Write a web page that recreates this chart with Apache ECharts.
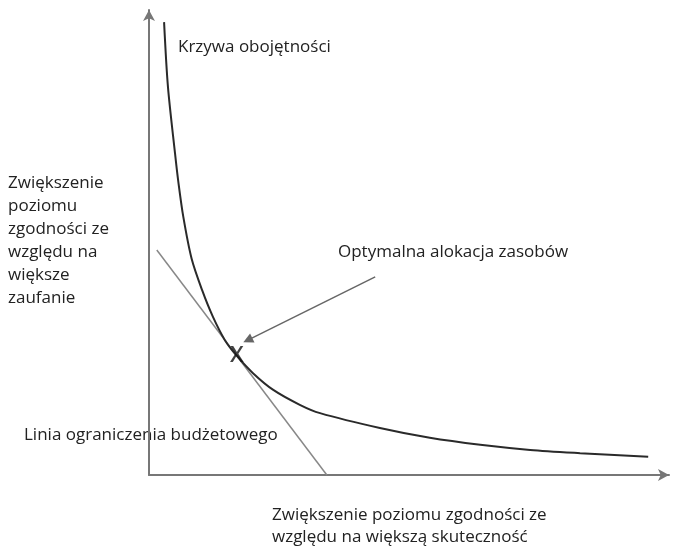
<!DOCTYPE html>
<html>
<head>
<meta charset="utf-8">
<script src="https://cdn.jsdelivr.net/npm/echarts@6.0.0/dist/echarts.min.js"></script>
<style>
html,body{margin:0;padding:0;background:#fff;}
#main{width:675px;height:546px;}
</style>
</head>
<body>
<div id="main"></div>
<script>
// krzywa obojętności (skala 0-100)
var curveX = [2.9, 3.65, 5.0, 5.6, 6.6, 8.2, 10.2, 12.3, 14.6, 16.9, 20.0, 23.9, 29.0, 32.9, 44.4, 54.0, 63.7, 73.3, 82.9, 96.0];
var curveY = [97.4, 83.4, 69.2, 63.4, 55.5, 46.5, 39.8, 34.0, 29.0, 25.6, 21.9, 18.3, 15.1, 13.3, 10.1, 8.0, 6.5, 5.4, 4.7, 3.9];
// linia ograniczenia budżetowego
var budgetX = [1.5, 34.2];
var budgetY = [48.4, 0];
// punkt optymalny i strzałka
var optimum = [16.9, 25.6];
var arrowFrom = [43.5, 42.6];
var arrowTo = [19.0, 29.0];

var font = '"Open Sans", "Noto Sans", sans-serif';
var txt = '#222';

function pairs(xs, ys){
    var out = [];
    for (var i = 0; i < xs.length; i++) out.push([xs[i], ys[i]]);
    return out;
}

var axisCommon = {
    type: 'value',
    min: 0,
    max: 100,
    axisLine: {
        show: true,
        symbol: ['none', 'arrow'],
        symbolSize: [9, 11],
        lineStyle: { color: '#777', width: 2 }
    },
    axisTick: { show: false },
    axisLabel: { show: false },
    splitLine: { show: false }
};

var myChart = echarts.init(document.getElementById('main'));
var option = {
    animation: false,
    backgroundColor: '#fff',
    grid: { left: 149, right: 6, top: 10, bottom: 71 },
    xAxis: axisCommon,
    yAxis: axisCommon,
    series: [
        {
            type: 'line',
            data: pairs(budgetX, budgetY),
            showSymbol: false,
            lineStyle: { color: '#888', width: 1.5 }
        },
        {
            type: 'line',
            data: pairs(curveX, curveY),
            smooth: 0.3,
            showSymbol: false,
            lineStyle: { color: '#2a2a2a', width: 2 }
        },
        {
            type: 'lines',
            coordinateSystem: 'cartesian2d',
            symbol: ['none', 'triangle'],
            symbolSize: 10,
            lineStyle: { color: '#666', width: 1.5, opacity: 1 },
            data: [{ coords: [arrowFrom, arrowTo] }]
        },
        {
            type: 'scatter',
            data: [optimum],
            symbolSize: 2,
            itemStyle: { color: 'rgba(0,0,0,0)' },
            label: {
                show: true,
                position: 'inside',
                formatter: 'X',
                fontFamily: font,
                fontSize: 22,
                fontWeight: 600,
                color: '#111'
            },
            z: 10
        }
    ],
    graphic: [
        { type: 'text', left: 178, top: 39, style: { text: 'Krzywa obojętności', font: '17px ' + font, fill: txt } },
        { type: 'text', left: 8, top: 172, style: {
            text: 'Zwiększenie\npoziomu\nzgodności ze\nwzględu na\nwiększe\nzaufanie',
            font: '17px ' + font, fill: txt, lineHeight: 23 } },
        { type: 'text', left: 338, top: 244, style: { text: 'Optymalna alokacja zasobów', font: '17px ' + font, fill: txt } },
        { type: 'text', left: 24, top: 427, style: { text: 'Linia ograniczenia budżetowego', font: '17px ' + font, fill: txt } },
        { type: 'text', left: 272, top: 504, style: {
            text: 'Zwiększenie poziomu zgodności ze\nwzględu na większą skuteczność',
            font: '17px ' + font, fill: txt, lineHeight: 22 } }
    ]
};
myChart.setOption(option);
</script>
</body>
</html>
